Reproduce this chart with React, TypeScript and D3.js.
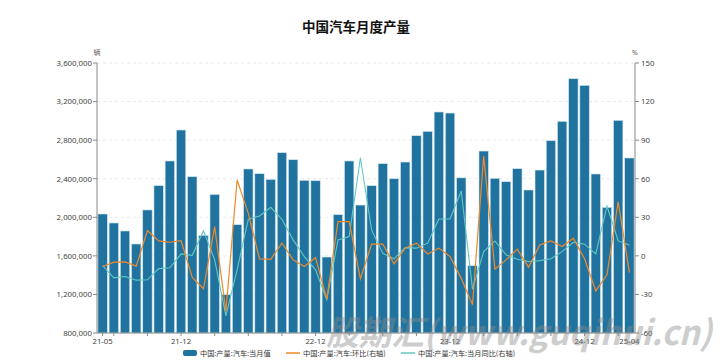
import React from "react";
import * as d3 from "d3";

const months: string[] = [
  "21-05","21-06","21-07","21-08","21-09","21-10","21-11","21-12",
  "22-01","22-02","22-03","22-04","22-05","22-06","22-07","22-08","22-09","22-10","22-11","22-12",
  "23-01","23-02","23-03","23-04","23-05","23-06","23-07","23-08","23-09","23-10","23-11","23-12",
  "24-01","24-02","24-03","24-04","24-05","24-06","24-07","24-08","24-09","24-10","24-11","24-12",
  "25-01","25-02","25-03","25-04",
];

const production: number[] = [
  2034000, 1941000, 1858000, 1723000, 2076000, 2328000, 2584000, 2905000,
  2421000, 1812000, 2237000, 1197000, 1923000, 2501000, 2452000, 2393000, 2670000, 2597000, 2383000, 2379000,
  1588000, 2027000, 2584000, 2127000, 2328000, 2556000, 2400000, 2573000, 2846000, 2891000, 3092000, 3081000,
  2409000, 1498000, 2687000, 2404000, 2369000, 2504000, 2283000, 2490000, 2794000, 2995000, 3437000, 3368000,
  2449000, 2103000, 3005000, 2615000,
];

const momPct: number[] = [
  -8.3, -4.9, -4.7, -8.0, 19.6, 11.6, 10.6, 11.9,
  -16.8, -25.6, 22.7, -43.2, 59.0, 33.1, -2.3, -2.7, 10.0, -3.1, -8.3, -1.3,
  -33.6, 26.6, 26.6, -17.9, 9.1, 9.1, -6.2, 6.0, 9.9, 1.5, 6.0, -0.6,
  -17.5, -38.0, 77.6, -10.3, -3.1, 5.2, -8.8, 8.5, 11.6, 7.2, 13.7, -2.3,
  -27.2, -14.8, 42.1, -13.0,
];

const yoyPct: number[] = [
  -7.5, -17.1, -16.1, -18.9, -18.6, -9.9, -9.3, 1.5,
  0.4, 19.6, -3.1, -46.6, -10.9, 28.5, 31.0, 37.8, 28.5, 12.4, -0.6, -10.9,
  -34.2, 12.4, 15.0, 76.3, 20.2, 1.9, -2.3, 6.4, 6.0, 9.9, 28.7, 28.7,
  50.4, -25.9, 3.3, 11.6, 0.8, -2.6, -4.4, -3.7, -2.3, 3.3, 10.6, 9.1,
  1.5, 38.8, 11.6, 8.5,
];

const leftTicks: number[] = [800000, 1200000, 1600000, 2000000, 2400000, 2800000, 3200000, 3600000];
const rightTicks: number[] = [-60, -30, 0, 30, 60, 90, 120, 150];
const labelMonths: string[] = ["21-05", "21-12", "22-12", "23-12", "24-12", "25-04"];

const title = "中国汽车月度产量";
const seriesNames: string[] = ["中国:产量:汽车:当月值", "中国:产量:汽车:环比(右轴)", "中国:产量:汽车:当月同比(右轴)"];
const watermark = "股期汇(www.guqihui.cn)";

const W = 727, H = 360;
const M = { left: 97, right: 635, top: 63, bottom: 333 };
const BAR = "#21739f";
const ORANGE = "#f0892a";
const TEAL = "#63c9c2";
const FONT = "'Noto Sans', 'Noto Sans CJK SC', sans-serif";
const CJK = "'Noto Sans CJK SC', sans-serif";

export default function App() {
  const x = d3.scaleBand<string>().domain(months).range([M.left, M.right]).paddingInner(0.16).paddingOuter(0.08);
  const yL = d3.scaleLinear().domain([800000, 3600000]).range([M.bottom, M.top]);
  const yR = d3.scaleLinear().domain([-60, 150]).range([M.bottom, M.top]);
  const cx = (m: string) => (x(m) as number) + x.bandwidth() / 2;
  const fmt = d3.format(",");

  const lineMom = d3.line<number>().x((_, i) => cx(months[i])).y((v) => yR(v));
  const lineYoy = d3.line<number>().x((_, i) => cx(months[i])).y((v) => yR(v));

  const tickIdx = months.map((_, i) => i).filter((i) => i === 0 || (i - 1) % 3 === 0);

  return (
    <svg width={W} height={H} style={{ position: "absolute", left: 0, top: 0, background: "#fff" }}>
      <text x={356} y={32} textAnchor="middle" fontFamily={CJK} fontWeight="bold" fontSize={13.5} fill="#111">{title}</text>

      {/* grid */}
      {leftTicks.map((t) => (
        <line key={"g" + t} x1={M.left} x2={M.right} y1={yL(t)} y2={yL(t)} stroke="#e3e3e3" strokeDasharray="3,3" strokeWidth={0.8} />
      ))}

      {/* bars */}
      {production.map((v, i) => (
        <rect key={"b" + i} x={x(months[i])} y={yL(v)} width={x.bandwidth()} height={M.bottom - yL(v)} fill={BAR} stroke="#cfe6f0" strokeWidth={0.6} />
      ))}

      <path d={lineYoy(yoyPct) || ""} fill="none" stroke={TEAL} strokeWidth={1.1} />
      <path d={lineMom(momPct) || ""} fill="none" stroke={ORANGE} strokeWidth={1.2} />

      {/* axes */}
      <line x1={M.left} x2={M.left} y1={M.top} y2={M.bottom} stroke="#888" strokeWidth={1} />
      <line x1={M.right} x2={M.right} y1={M.top} y2={M.bottom} stroke="#888" strokeWidth={1} />
      <line x1={M.left} x2={M.right} y1={M.bottom} y2={M.bottom} stroke="#888" strokeWidth={1} />

      {leftTicks.map((t) => (
        <g key={"l" + t}>
          <line x1={M.left - 4} x2={M.left} y1={yL(t)} y2={yL(t)} stroke="#888" />
          <text x={M.left - 5} y={yL(t) + 2.8} textAnchor="end" fontFamily={FONT} fontSize={7.8} fill="#444">{fmt(t)}</text>
        </g>
      ))}
      {rightTicks.map((t) => (
        <g key={"r" + t}>
          <line x1={M.right} x2={M.right + 4} y1={yR(t)} y2={yR(t)} stroke="#888" />
          <text x={M.right + 6} y={yR(t) + 2.8} textAnchor="start" fontFamily={FONT} fontSize={7.8} fill="#444">{t}</text>
        </g>
      ))}
      <text x={M.left} y={55} textAnchor="middle" fontFamily={CJK} fontSize={7} fill="#666">辆</text>
      <text x={M.right} y={55} textAnchor="middle" fontFamily={FONT} fontSize={7} fill="#666">%</text>

      {tickIdx.map((i) => (
        <line key={"xt" + i} x1={cx(months[i])} x2={cx(months[i])} y1={M.bottom} y2={M.bottom + 3} stroke="#888" />
      ))}
      {labelMonths.map((m) => (
        <text key={"xl" + m} x={cx(m)} y={M.bottom + 11} textAnchor="middle" fontFamily={FONT} fontSize={7.8} fill="#444">{m}</text>
      ))}

      {/* legend */}
      <g fontFamily={CJK} fontSize={7.2} fill="#333">
        <rect x={183} y={350} width={14} height={6} rx={2} fill={BAR} />
        <text x={200} y={356}>{seriesNames[0]}</text>
        <line x1={286} x2={300} y1={353} y2={353} stroke={ORANGE} strokeWidth={1.5} />
        <text x={303} y={356}>{seriesNames[1]}</text>
        <line x1={401} x2={415} y1={353} y2={353} stroke={TEAL} strokeWidth={1.5} />
        <text x={418} y={356}>{seriesNames[2]}</text>
      </g>

      {/* watermark */}
      <text x={326} y={345} textLength={386} lengthAdjust="spacingAndGlyphs" fontFamily={CJK} fontWeight="bold" fontStyle="italic" fontSize={34} fill="#8a8a8a" opacity={0.42}>{watermark}</text>
    </svg>
  );
}
